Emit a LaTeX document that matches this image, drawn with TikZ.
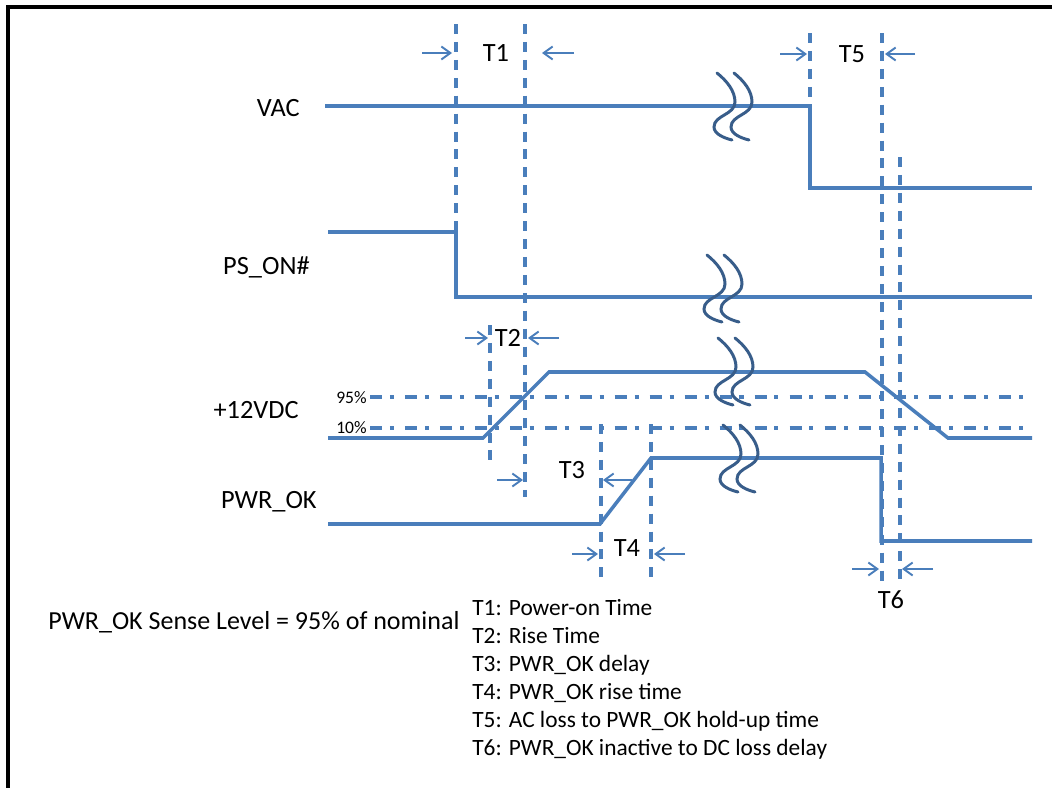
\documentclass[tikz,border=0pt]{standalone}
\usepackage{fontspec}
\setmainfont{Carlito}
\usepackage{xcolor}
\usetikzlibrary{arrows.meta}
\definecolor{sigblue}{HTML}{4A7EBB}
\definecolor{brkblue}{HTML}{385D8A}

\begin{document}
\begin{tikzpicture}[x=0.02cm, y=-0.02cm,
  sig/.style={sigblue, line width=2pt},
  tline/.style={sigblue, line width=2pt, dash pattern=on 5.7pt off 4.5pt},
  lvl/.style={sigblue, line width=2pt,
              dash pattern=on 6.8pt off 4.5pt on 2.3pt off 6.3pt},
  dim/.style={sigblue, line width=1.1pt,
              -{Straight Barb[length=1.8mm, width=2.6mm]}},
  lab/.style={font=\fontsize{15}{18}\selectfont, inner sep=0pt},
  pct/.style={font=\fontsize{10}{12}\selectfont, inner sep=0pt},
  leg/.style={font=\fontsize{13.3}{16}\selectfont, inner sep=0pt},
  brk/.pic={
    \foreach \dx in {0,17}
      \draw[brkblue, line width=1.7pt, line cap=round, xshift=\dx*0.02cm]
        (0,0) .. controls (10,8) and (18,18) .. (18,29)
        .. controls (18,42) and (-3,42) .. (-3,54)
        .. controls (-3,61) and (7,65) .. (15,67);
  }]
\useasboundingbox (0,0) rectangle (1052,788);
% --- frame ---
\draw[line width=1.8pt] (8,790) -- (8,7) -- (1054,7);
% --- signal names ---
\node[lab, anchor=base east] (vac)  at (300,116) {VAC};
\node[lab, anchor=base east] (pson) at (310,274) {PS\_ON\#};
\node[lab, anchor=base east] (v12)  at (299,418) {+12VDC};
\node[lab, anchor=base east] (pwok) at (317,508) {PWR\_OK};
\node[pct, anchor=base east] (p95)  at (367,403) {95\%};
\node[pct, anchor=base east] (p10)  at (367,433) {10\%};
% --- levels ---
\draw[lvl] (370,397) -- (1030,397);
\draw[lvl] (370,428) -- (1030,428);
% --- waveforms ---
\draw[sig] (325,106) -- (810,106) -- (810,188) -- (1032,188);
\draw[sig] (328,232) -- (456,232) -- (456,297) -- (1032,297);
\draw[sig] (328,438) -- (483,438) -- (549,372) -- (865,372)
  -- (948,438) -- (1032,438);
\draw[sig] (328,524) -- (600,524) -- (651,458) -- (881,458)
  -- (881,541) -- (1032,541);
% --- breaks ---
\pic at (717,73)  {brk};
\pic at (707,255) {brk};
\pic at (718,338) {brk};
\pic at (723,425) {brk};
% --- timing marks ---
\draw[tline] (456,24) -- (456,297);
\draw[tline] (525,24) -- (525,497);
\draw[tline] (490,325) -- (490,460);
\draw[tline] (601,424) -- (601,583);
\draw[tline] (651,424) -- (651,583);
\draw[tline] (810,33) -- (810,106);
\draw[tline] (882,33) -- (882,585);
\draw[tline] (900,157) -- (900,585);
% --- dimension arrows ---
\draw[dim] (422,53) -- (452,53);
\draw[dim] (574,53) -- (542,53);
\draw[dim] (465,338) -- (488,338);
\draw[dim] (559,338) -- (528,338);
\draw[dim] (497,480) -- (523,480);
\draw[dim] (632,480) -- (603,480);
\draw[dim] (572,554) -- (598,554);
\draw[dim] (685,554) -- (654,554);
\draw[dim] (780,54) -- (807,54);
\draw[dim] (915,54) -- (885,54);
\draw[dim] (852,569) -- (879,569);
\draw[dim] (933,569) -- (902,569);
% --- interval names ---
\node[lab] (t1) at (496,53)  {T1};
\node[lab] (t2) at (508,338) {T2};
\node[lab] (t3) at (572,470) {T3};
\node[lab] (t4) at (627,548) {T4};
\node[lab] (t5) at (852,54)  {T5};
\node[lab] (t6) at (891,600) {T6};
% --- notes ---
\node[lab, font=\fontsize{14.8}{18}\selectfont, anchor=base west] (sense)
  at (48,629) {PWR\_OK Sense Level = 95\% of nominal};
\foreach \txt [count=\k] in {{T1: Power-on Time}, {T2: Rise Time},
    {T3: PWR\_OK delay}, {T4: PWR\_OK rise time},
    {T5: AC loss to PWR\_OK hold-up time},
    {T6: PWR\_OK inactive to DC loss delay}}
  \node[leg, anchor=base west] (leg\k) at (472,{615+28*(\k-1)}) {\txt};
\end{tikzpicture}
\end{document}
